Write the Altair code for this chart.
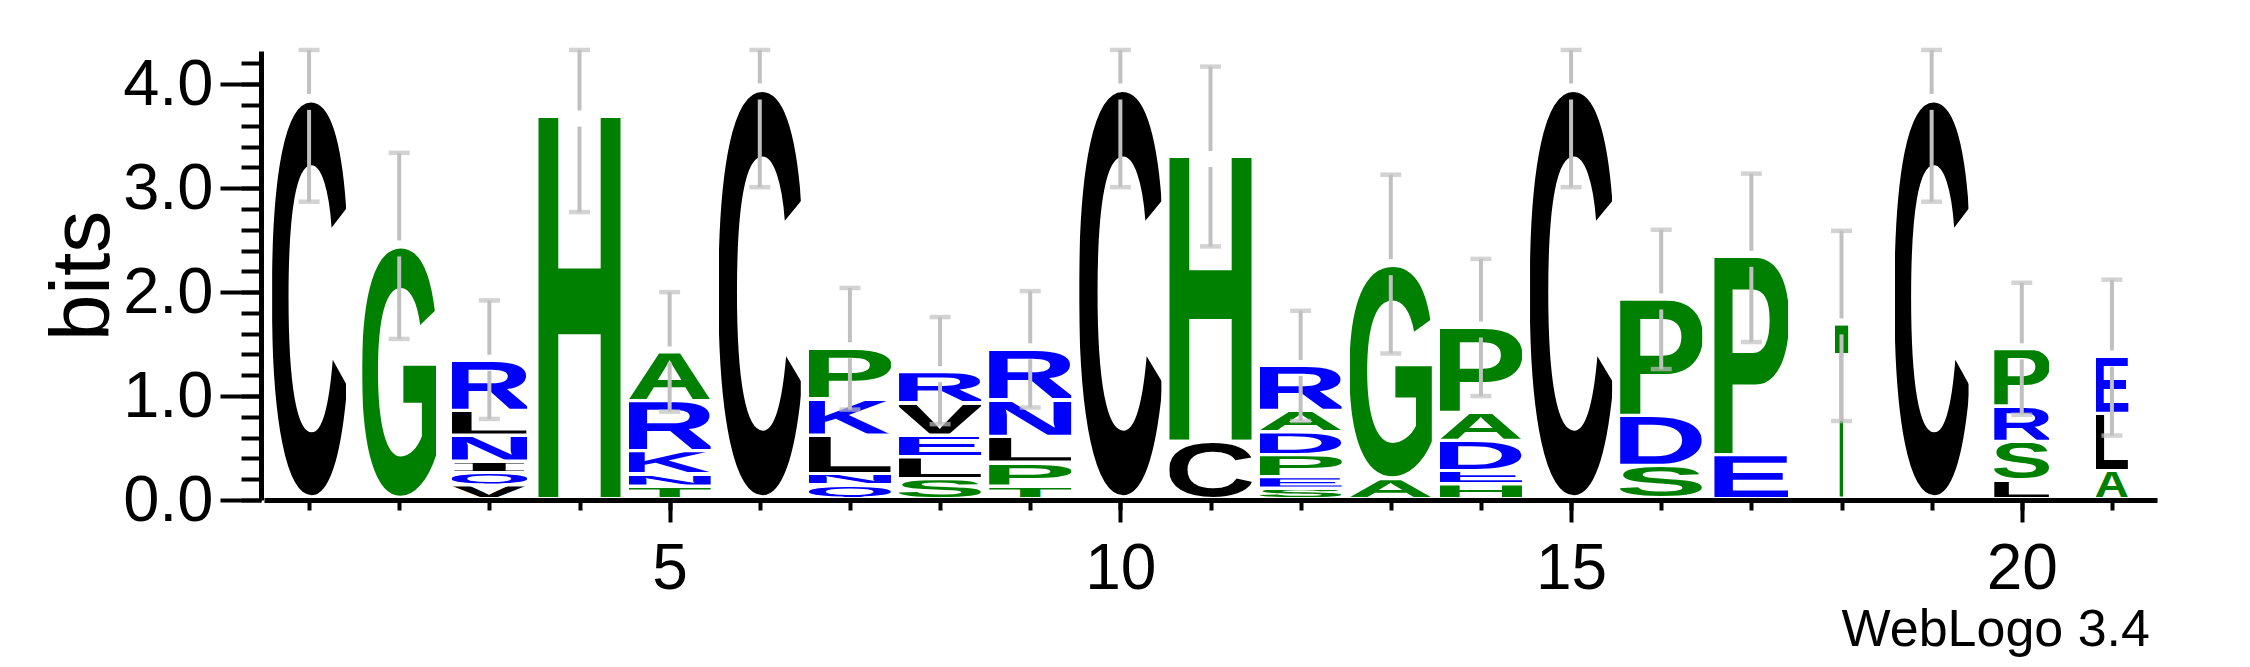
import base64
import altair as alt
import pandas as pd

# ---------------- data ----------------
POSITIONS = list(range(1, 22))
# letters of each stack, listed from top to bottom
STACK_LETTERS = ["C", "G", "RLNIQV", "H", "ARKNT", "C", "PKLNQ", "RVELS", "RNLPT", "C",
                 "HC", "RADPES", "GA", "PADEH", "C", "PDS", "PE", "T", "C", "PRSL", "ELA"]
# height (bits) of each letter, same order
STACK_BITS = [
    [3.84], [2.43], [0.48, 0.24, 0.25, 0.11, 0.12, 0.13], [3.68],
    [0.47, 0.48, 0.22, 0.12, 0.12], [3.94], [0.49, 0.35, 0.37, 0.11, 0.13],
    [0.30, 0.31, 0.21, 0.21, 0.19], [0.49, 0.35, 0.25, 0.23, 0.12], [3.94],
    [2.74, 0.55], [0.43, 0.21, 0.22, 0.21, 0.11, 0.10], [2.06, 0.19],
    [0.82, 0.27, 0.29, 0.13, 0.14], [3.94], [1.12, 0.48, 0.32], [1.91, 0.42],
    [1.68], [3.84], [0.55, 0.34, 0.37, 0.18], [0.55, 0.55, 0.27],
]
# relative stack width (fraction of non-gap symbols)
STACK_WIDTH = [0.90, 0.90, 0.92, 1, 1, 1, 1, 1, 1, 1, 1, 1, 1, 1, 1, 1, 0.90, 0.17, 0.90, 0.67, 0.40]
ERR_LOW = [2.87, 1.55, 0.78, 2.77, 0.85, 3.01, 0.87, 0.73, 0.89, 3.01, 2.44,
           0.76, 1.41, 1.00, 3.01, 1.26, 1.52, 0.76, 2.87, 0.82, 0.62]
ERR_HIGH = [4.33, 3.34, 1.92, 4.33, 2.00, 4.33, 2.04, 1.76, 2.01, 4.33, 4.17,
            1.82, 3.13, 2.32, 4.33, 2.60, 3.14, 2.59, 4.33, 2.09, 2.12]
X_LABELED = [5, 10, 15, 20]
Y_LABELED = [0, 1, 2, 3, 4]
Y_MINOR = [round(i * 0.2, 1) for i in range(22)]

# ---------------- styles ----------------
BLACK, GREEN, BLUE = "#000000", "#008000", "#0000ff"
COLORS = {"C": BLACK, "L": BLACK, "V": BLACK, "I": BLACK,
          "G": GREEN, "H": GREEN, "A": GREEN, "P": GREEN, "S": GREEN, "T": GREEN,
          "R": BLUE, "N": BLUE, "Q": BLUE, "K": BLUE, "E": BLUE, "D": BLUE}
SANS = "Liberation Sans, Arial, Helvetica, sans-serif"
SERIF = "Liberation Serif, Times New Roman, serif"
# glyph ink boxes (1000 units/em): xmin, ymin, xmax, ymax
GLYPH_BOX = {
    "A": (SANS, (20, 0, 702, 688)), "C": (SANS, (44, -13, 684, 701)),
    "D": (SANS, (76, 0, 685, 688)), "E": (SANS, (76, 0, 621, 688)),
    "G": (SANS, (44, -13, 713, 701)), "H": (SANS, (71, 0, 651, 688)),
    "K": (SANS, (87, 0, 722, 688)), "L": (SANS, (76, 0, 583, 688)),
    "N": (SANS, (69, 0, 654, 688)), "P": (SANS, (76, 0, 627, 688)),
    "Q": (SANS, (44, -55, 737, 701)), "R": (SANS, (76, 0, 677, 688)),
    "S": (SANS, (39, -13, 629, 701)), "T": (SANS, (14, 0, 598, 688)),
    "V": (SANS, (24, 0, 653, 688)), "I": (SERIF, (20, 0, 370, 662)),
}
FILL = 0.91  # fraction of a position taken by a full-width stack


def glyph_url(letter):
    fam, (x0, y0, x1, y1) = GLYPH_BOX[letter]
    w, h = x1 - x0, y1 - y0
    svg = (f'<svg xmlns="http://www.w3.org/2000/svg" viewBox="{x0} {-y1} {w} {h}" '
           f'width="{w}" height="{h}" preserveAspectRatio="none">'
           f'<text x="0" y="0" font-family="{fam}" font-weight="bold" font-size="1000" '
           f'fill="{COLORS[letter]}">{letter}</text></svg>')
    return "data:image/svg+xml;base64," + base64.b64encode(svg.encode()).decode()


rows, err_rows = [], []
for pos, letters, bits, wfrac, lo, hi in zip(POSITIONS, STACK_LETTERS, STACK_BITS,
                                             STACK_WIDTH, ERR_LOW, ERR_HIGH):
    base = 0.0
    for letter, b in reversed(list(zip(letters, bits))):
        rows.append({"pos": pos, "letter": letter, "bits": b,
                     "y0": base, "y1": base + b,
                     "x0": pos - FILL * wfrac / 2, "x1": pos + FILL * wfrac / 2,
                     "url": glyph_url(letter)})
        base += b
    err_rows.append({"pos": pos, "low": lo, "high": hi, "top": base})

letters_df = pd.DataFrame(rows)
err_df = pd.DataFrame(err_rows)

FONT = "Liberation Sans"
xscale = alt.Scale(domain=[0.5, 21.5], nice=False, zero=False)
yscale = alt.Scale(domain=[0, 4.32], nice=False, zero=True)

minor_x = alt.Axis(orient="bottom", values=POSITIONS, labels=False, tickSize=10, tickWidth=4,
                   tickColor="black", domain=True, domainWidth=5, domainColor="black",
                   grid=False, title=None)
minor_y = alt.Axis(orient="left", values=Y_MINOR, labels=False, tickSize=20, tickWidth=4,
                   tickColor="black", domain=True, domainWidth=5, domainColor="black",
                   grid=False, title=None, offset=3)
major_x = alt.Axis(orient="bottom", values=X_LABELED, tickSize=22, tickWidth=4,
                   tickColor="black", domain=False, grid=False, title=None,
                   labelFont=FONT, labelFontSize=64, labelColor="black", labelPadding=15,
                   format="d")
major_y = alt.Axis(orient="left", values=Y_LABELED, tickSize=41, tickWidth=4,
                   tickColor="black", domain=False, grid=False, offset=3,
                   labelFont=FONT, labelFontSize=65, labelColor="black", labelPadding=7,
                   format=".1f", title="bits", titleFont=FONT, titleFontSize=84,
                   titleFontWeight="normal", titleColor="black", titleAngle=-90,
                   titleBaseline="alphabetic", titleAlign="center", titleX=-153, titleY=224.5)

letters_layer = alt.Chart(letters_df).mark_image(aspect=False, y2Offset=-3).encode(
    x=alt.X("x0:Q", scale=xscale, axis=minor_x),
    x2="x1:Q",
    y=alt.Y("y1:Q", scale=yscale, axis=minor_y),
    y2="y0:Q",
    url="url:N",
)

GRAY = "#c0c0c0"
err_upper = alt.Chart(err_df).mark_rule(color=GRAY, strokeWidth=4, y2Offset=-7).encode(
    x=alt.X("pos:Q", scale=xscale, axis=major_x),
    y=alt.Y("high:Q", scale=yscale, axis=major_y),
    y2="top:Q",
)
err_lower = alt.Chart(err_df).mark_rule(color=GRAY, strokeWidth=4, yOffset=9).encode(
    x=alt.X("pos:Q", scale=xscale, axis=None),
    y=alt.Y("top:Q", scale=yscale, axis=None),
    y2="low:Q",
)
cap_hi = alt.Chart(err_df).mark_tick(color=GRAY, orient="horizontal", size=21, thickness=4.5).encode(
    x=alt.X("pos:Q", scale=xscale, axis=None),
    y=alt.Y("high:Q", scale=yscale, axis=None),
)
cap_lo = alt.Chart(err_df).mark_tick(color=GRAY, orient="horizontal", size=21, thickness=4.5).encode(
    x=alt.X("pos:Q", scale=xscale, axis=None),
    y=alt.Y("low:Q", scale=yscale, axis=None),
)

chart = alt.layer(letters_layer, err_upper, err_lower, cap_hi, cap_lo).resolve_axis(
    x="independent", y="independent"
).properties(
    width=1893,
    height=449,
    background="white",
    autosize=alt.AutoSizeParams(type="none"),
    padding={"left": 256, "top": 43, "right": 80, "bottom": 166},
    title=alt.TitleParams("WebLogo 3.4", orient="bottom", anchor="end", fontSize=52,
                          fontWeight="normal", font=FONT, color="black", offset=4, dx=-7),
).configure_view(stroke=None)

chart.save("out.html", embed_options={"renderer": "svg", "actions": False})
